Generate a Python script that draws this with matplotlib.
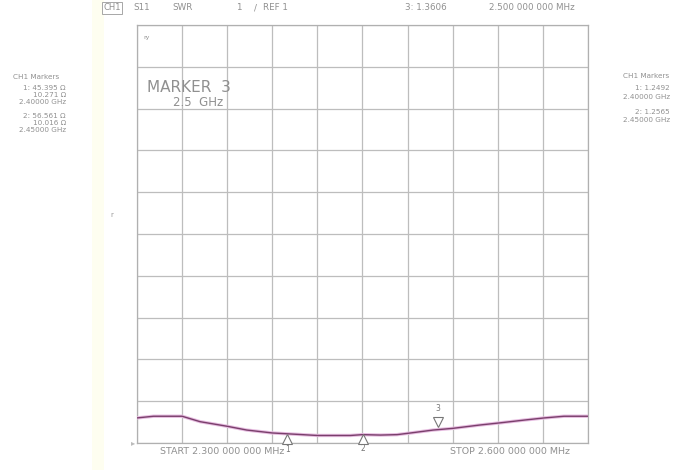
import matplotlib
matplotlib.use("Agg")
import matplotlib.pyplot as plt
from matplotlib import transforms
from matplotlib.patches import Rectangle

# ---- data ----
freq_ghz = [2.300, 2.311, 2.330, 2.342, 2.360, 2.373, 2.390, 2.400, 2.420, 2.442,
            2.450, 2.462, 2.473, 2.482, 2.497, 2.510, 2.528, 2.541, 2.558, 2.571,
            2.584, 2.600]
swr = [1.60, 1.64, 1.64, 1.51, 1.40, 1.31, 1.24, 1.22, 1.18, 1.18,
       1.20, 1.19, 1.20, 1.24, 1.31, 1.35, 1.43, 1.48, 1.55, 1.60,
       1.64, 1.64]
marker_freq = [2.40, 2.45, 2.50]
marker_swr = [1.2492, 1.2565, 1.3606]
marker_names = ["1", "2", "3"]

header = [("S11", 133), ("SWR", 172), ("1", 236), ("/", 254), ("REF 1", 263),
          ("3: 1.3606", 405), ("2.500 000 000 MHz", 489)]
left_lines = [("CH1 Markers", 77), ("1: 45.395 Ω", 88), ("10.271 Ω", 95),
              ("2.40000 GHz", 102), ("2: 56.561 Ω", 116), ("10.016 Ω", 123),
              ("2.45000 GHz", 130)]
right_lines = [("CH1 Markers", 76), ("1: 1.2492", 88), ("2.40000 GHz", 97),
               ("2: 1.2565", 112), ("2.45000 GHz", 120)]

W, H = 684, 470
fig = plt.figure(figsize=(W / 100, H / 100), dpi=100)
fig.patch.set_facecolor("white")

def fx(x):
    return x / W

def fy(y):
    return 1 - y / H

# faint yellow strip at the left
fig.patches.append(Rectangle((fx(92), 0), fx(12), 1, transform=fig.transFigure,
                             facecolor="#fefef0", edgecolor="none", zorder=0))

ax = fig.add_axes([fx(137), fy(443), fx(588) - fx(137), (443 - 25) / H])
ax.set_xlim(2.3, 2.6)
ax.set_ylim(1, 11)
xt = [2.3 + 0.03 * i for i in range(11)]
ax.set_xticks(xt)
ax.set_yticks(range(1, 12))
ax.grid(True, color="#bdbdbd", linewidth=0.9)
ax.tick_params(left=False, bottom=False, labelleft=False, labelbottom=False)
for s in ax.spines.values():
    s.set_color("#b0b0b0")
    s.set_linewidth(0.9)
ax.set_facecolor("white")

# trace
ax.plot(freq_ghz, swr, color="#e6bce0", linewidth=2.4, zorder=3, solid_capstyle="butt")
ax.plot(freq_ghz, swr, color="#7a3f6c", linewidth=1.0, zorder=4)

# markers
down = transforms.offset_copy(ax.transData, fig=fig, x=0, y=-4.5, units="points")
up = transforms.offset_copy(ax.transData, fig=fig, x=0, y=4.5, units="points")
for f, v, n in zip(marker_freq, marker_swr, marker_names):
    if n == "3":
        ax.plot([f], [v], marker="v", markersize=7, markerfacecolor="white",
                markeredgecolor="#777777", markeredgewidth=0.8, transform=up,
                clip_on=False, zorder=5)
        ax.text(f, v, n, transform=transforms.offset_copy(ax.transData, fig=fig, y=11, units="points"),
                ha="center", va="bottom", fontsize=5.5, color="#777777")
    else:
        ax.plot([f], [v], marker="^", markersize=7, markerfacecolor="white",
                markeredgecolor="#777777", markeredgewidth=0.8, transform=down,
                clip_on=False, zorder=5)
        ax.text(f, v, n, transform=transforms.offset_copy(ax.transData, fig=fig, y=-12, units="points"),
                ha="center", va="center", fontsize=5.5, color="#777777")

# reference arrow at bottom-left
fig.text(fx(133), fy(443), "▸", fontsize=6, color="#bbbbbb", ha="center", va="center")
fig.text(fx(112), fy(215), "r", fontsize=5, color="#999999", ha="center", va="center")

tc = "#909090"
# header
fig.text(fx(103), fy(8), "CH1", fontsize=6, color=tc, ha="left", va="center",
         bbox=dict(boxstyle="square,pad=0.15", facecolor="white", edgecolor="#999999", linewidth=0.6))
for t, x in header:
    fig.text(fx(x), fy(8), t, fontsize=6.3, color=tc, ha="left", va="center")

# left marker block
for i, (t, y) in enumerate(left_lines):
    if i == 0:
        fig.text(fx(36), fy(y), t, fontsize=5.2, color=tc, ha="center", va="center")
    else:
        fig.text(fx(66), fy(y), t, fontsize=5.2, color=tc, ha="right", va="center")

# right marker block
for i, (t, y) in enumerate(right_lines):
    if i == 0:
        fig.text(fx(646), fy(y), t, fontsize=5.2, color=tc, ha="center", va="center")
    else:
        fig.text(fx(670), fy(y), t, fontsize=5.2, color=tc, ha="right", va="center")

# inside-plot annotations
fig.text(fx(143), fy(37), "ry", fontsize=4.5, color=tc, ha="left", va="center")
fig.text(fx(147), fy(87), "MARKER  3", fontsize=11, color=tc, ha="left", va="center")
fig.text(fx(173), fy(103), "2.5  GHz", fontsize=8.5, color=tc, ha="left", va="center")

# bottom
fig.text(fx(160), fy(452), "START 2.300 000 000 MHz", fontsize=6.8, color=tc, ha="left", va="center")
fig.text(fx(450), fy(452), "STOP 2.600 000 000 MHz", fontsize=6.8, color=tc, ha="left", va="center")

fig.savefig("out.png", dpi=100, facecolor="white")
